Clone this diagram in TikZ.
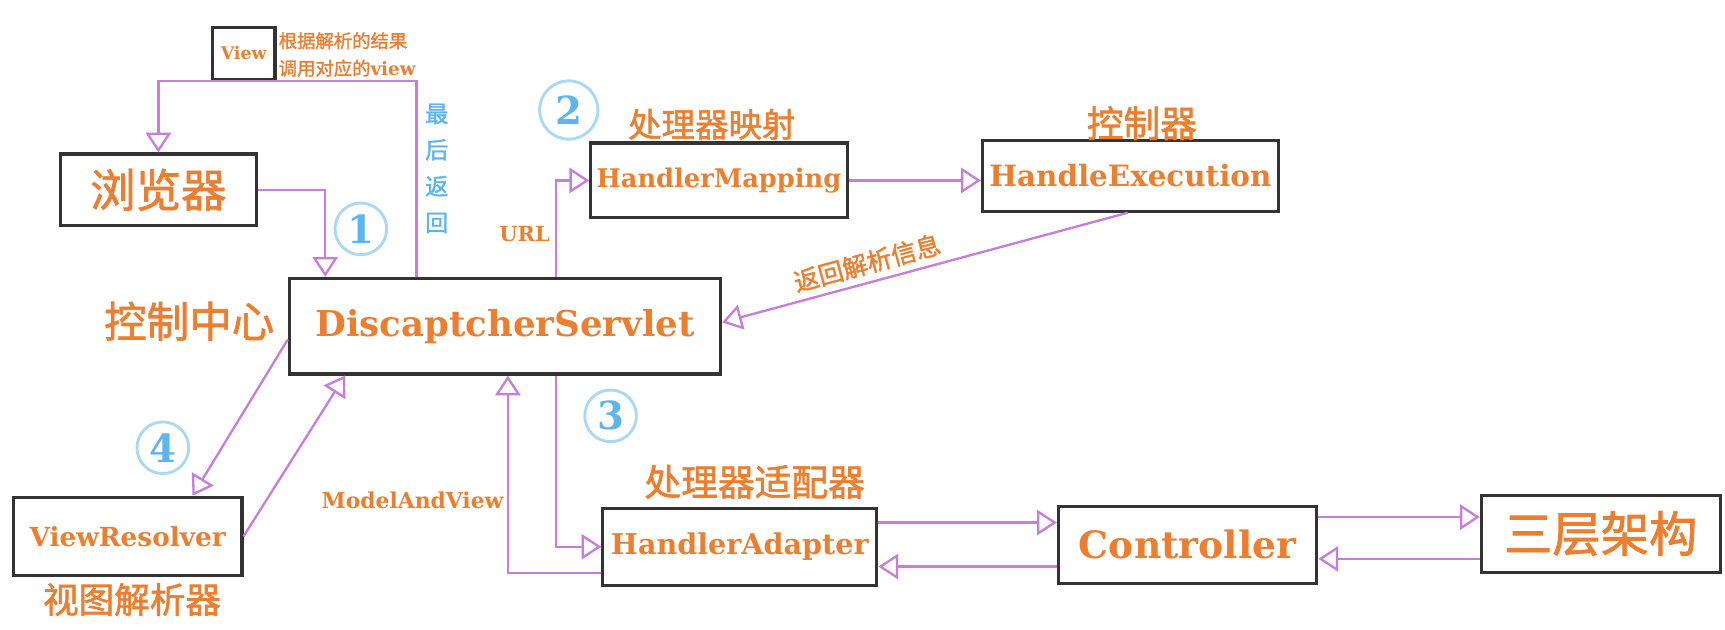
\documentclass[tikz,border=0pt]{standalone}
\usepackage{fontspec}
\usetikzlibrary{arrows.meta,positioning,calc}
\newfontfamily\cjk{Noto Sans CJK SC}[FakeBold=1.6]
\newfontfamily\slab{DejaVu Serif}
\definecolor{mvcOrange}{HTML}{EC7E30}
\definecolor{mvcPurple}{HTML}{C77DDB}
\definecolor{mvcBlue}{HTML}{5DB5EF}
\definecolor{mvcRing}{HTML}{A9D9F5}
\definecolor{mvcInk}{HTML}{333333}

\begin{document}
\begin{tikzpicture}[x=0.02cm,y=-0.02cm,
  box/.style={draw=mvcInk,line width=1.6pt,inner sep=0pt,text=mvcOrange},
  flow/.style={mvcPurple,line width=1.2pt,-{Triangle[open,width=0.46cm,length=0.36cm]}},
  stepnum/.style={circle,draw=mvcRing,line width=1.5pt,minimum size=0.94cm,inner sep=0pt,
    text=mvcBlue,font=\slab\bfseries\fontsize{20}{20}\selectfont},
  tag/.style={text=mvcOrange,inner sep=0pt}]
  \useasboundingbox (0,0) rectangle (1568,572);
  % ---- boxes ----
  \node[box,minimum width=1.14cm,minimum height=0.94cm,font=\slab\bfseries\fontsize{9}{9}\selectfont] (view) at (221.5,48.5) {View};
  \node[box,minimum width=3.56cm,minimum height=1.3cm,font=\cjk\fontsize{23.5}{23.5}\selectfont] (browser) at (144,172.5) {浏览器};
  \node[box,minimum width=7.84cm,minimum height=1.74cm,font=\slab\bfseries\fontsize{18.4}{18.4}\selectfont] (ds) at (459,296.5) {DiscaptcherServlet};
  \node[box,minimum width=4.66cm,minimum height=1.36cm,font=\slab\bfseries\fontsize{13.3}{13.3}\selectfont] (hm) at (653.5,164) {HandlerMapping};
  \node[box,minimum width=5.38cm,minimum height=1.28cm,font=\slab\bfseries\fontsize{15.2}{15.2}\selectfont] (he) at (1027.5,160) {HandleExecution};
  \node[box,minimum width=4.16cm,minimum height=1.42cm,font=\slab\bfseries\fontsize{13.6}{13.6}\selectfont] (vr) at (116,487.5) {ViewResolver};
  \node[box,minimum width=4.98cm,minimum height=1.4cm,font=\slab\bfseries\fontsize{14.8}{14.8}\selectfont] (ha) at (672.5,497) {HandlerAdapter};
  \node[box,minimum width=4.7cm,minimum height=1.4cm,font=\slab\bfseries\fontsize{19.5}{19.5}\selectfont] (ctrl) at (1079.5,495) {Controller};
  \node[box,minimum width=4.34cm,minimum height=1.4cm,font=\cjk\fontsize{25}{25}\selectfont] (layers) at (1455,485) {三层架构};
  % ---- labels ----
  \node[tag,anchor=west,font=\cjk\fontsize{9.5}{9.5}\selectfont] (viewnote1) at (253,37) {根据解析的结果};
  \node[tag,anchor=west,font=\cjk\fontsize{9.5}{9.5}\selectfont] (viewnote2) at (253,62) {调用对应的{\slab\bfseries view}};
  \node[tag,text=mvcBlue,align=center,font=\cjk\fontsize{12}{18.8}\selectfont] (lastret) at (397,153) {最\\后\\返\\回};
  \node[tag,font=\cjk\fontsize{17.3}{17.3}\selectfont] (hmname) at (647,113) {处理器映射};
  \node[tag,font=\cjk\fontsize{19}{19}\selectfont] (hename) at (1038,112) {控制器};
  \node[tag,font=\cjk\fontsize{22}{22}\selectfont] (dsname) at (172,292) {控制中心};
  \node[tag,font=\cjk\fontsize{18.4}{18.4}\selectfont] (vrname) at (120,545) {视图解析器};
  \node[tag,font=\cjk\fontsize{19}{19}\selectfont] (haname) at (686,438) {处理器适配器};
  \node[tag,anchor=east,font=\slab\bfseries\fontsize{10.8}{10.8}\selectfont] (url) at (500,213) {URL};
  \node[tag,anchor=east,font=\slab\bfseries\fontsize{11.3}{11.3}\selectfont] (mav) at (458,455) {ModelAndView};
  % ---- steps ----
  \node[stepnum] (s1) at (328,208) {1};
  \node[stepnum,minimum size=1.06cm] (s2) at (517,100) {2};
  \node[stepnum] (s3) at (555,378) {3};
  \node[stepnum] (s4) at (148,407) {4};
  % ---- connectors ----
  \draw[flow] (browser.east) -| ($(ds.north west)+(34,0)$);
  \draw[flow] ($(ds.north west)+(117,0)$) |- (view.south) -| (browser.north);
  \draw[flow] ($(ds.north west)+(244,0)$) |- (hm.west);
  \draw[flow] (hm.east) -- (hm.east -| he.west);
  \draw[flow] ([xshift=-0.05cm]he.south) -- node[tag,sloped,above=0.12cm,pos=0.63,font=\cjk\fontsize{13}{13}\selectfont] {返回解析信息} ([yshift=0.07cm]ds.east);
  \draw[flow] ([yshift=-0.24cm]ds.west) -- ([xshift=1.18cm]vr.north);
  \draw[flow] (vr.east) -- ([xshift=1.04cm]ds.south west);
  \draw[flow] ($(ds.south west)+(244,0)$) |- (ha.west);
  \draw[flow] ($(ha.west)+(0,24)$) -| ($(ds.south west)+(200,0)$);
  \draw[flow] ($(ha.east)+(0,-22)$) -- ($(ha.east -| ctrl.west)+(0,-22)$);
  \draw[flow] ($(ctrl.west)+(0,20)$) -- ($(ctrl.west -| ha.east)+(0,20)$);
  \draw[flow] ($(ctrl.east)+(0,-25)$) -- ($(ctrl.east -| layers.west)+(0,-25)$);
  \draw[flow] ($(layers.west)+(0,23)$) -- ($(layers.west -| ctrl.east)+(0,23)$);
\end{tikzpicture}
\end{document}
